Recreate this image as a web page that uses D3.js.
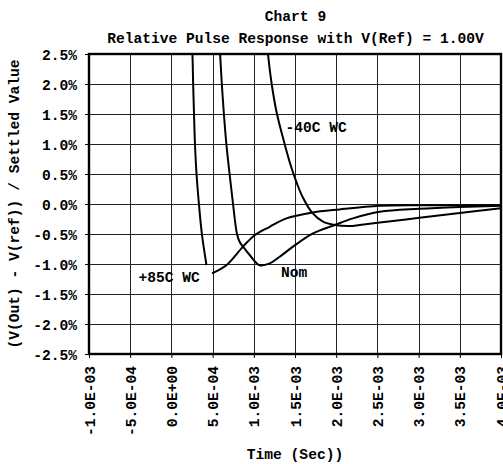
<!DOCTYPE html>
<html>
<head>
<meta charset="utf-8">
<script src="https://cdn.jsdelivr.net/npm/d3@7/dist/d3.min.js"></script>
<style>
  html, body { margin: 0; padding: 0; background: #fff; }
  svg { display: block; }
  text { font-family: "Liberation Mono", "Courier New", monospace; font-weight: bold; fill: #000; }
</style>
</head>
<body>
<svg id="chart" width="503" height="464"></svg>
<script>
// ---- data (time in ms, value in %) ----
const xTickValues = [-1.0, -0.5, 0.0, 0.5, 1.0, 1.5, 2.0, 2.5, 3.0, 3.5, 4.0];
const xTickLabels = ["-1.0E-03", "-5.0E-04", "0.0E+00", "5.0E-04", "1.0E-03", "1.5E-03",
                     "2.0E-03", "2.5E-03", "3.0E-03", "3.5E-03", "4.0E-03"];
const yTickValues = [2.5, 2.0, 1.5, 1.0, 0.5, 0.0, -0.5, -1.0, -1.5, -2.0, -2.5];
const yTickLabels = ["2.5%", "2.0%", "1.5%", "1.0%", "0.5%", "0.0%", "-0.5%", "-1.0%", "-1.5%", "-2.0%", "-2.5%"];

const hotT = [0.245, 0.255, 0.264, 0.274, 0.286, 0.305, 0.334, 0.370, 0.426, null,
              0.493, 0.667, 0.869, 1.011, 1.193, 1.396, 1.699, 2.043, 2.528, 3.010, 4.000];
const hotV = [2.7, 2.5, 2.0, 1.52, 1.0, 0.5, 0.0, -0.5, -1.02, null,
              -1.155, -1.02, -0.71, -0.52, -0.38, -0.24, -0.145, -0.09, -0.03, -0.02, -0.02];

const nomT = [0.58, 0.591, 0.612, 0.636, 0.667, 0.706, 0.748, 0.796, 0.828, 0.869, 0.950, 1.072,
              1.193, 1.314, 1.476, 1.718, 1.982, 2.204, 2.528, 3.010, 3.500, 4.000];
const nomV = [2.7, 2.5, 2.0, 1.52, 1.0, 0.5, 0.0, -0.5, -0.63, -0.71, -0.85, -1.02,
              -0.99, -0.88, -0.71, -0.49, -0.35, -0.24, -0.13, -0.08, -0.05, -0.03];

const coldT = [1.16, 1.172, 1.217, 1.278, 1.374, 1.453, 1.523, 1.591, 1.708, 1.840, 1.982,
               2.164, 2.285, 2.528, 3.010, 3.500, 4.000];
const coldV = [2.7, 2.5, 2.0, 1.52, 1.0, 0.62, 0.345, 0.12, -0.145, -0.295, -0.35,
               -0.367, -0.35, -0.31, -0.23, -0.15, -0.07];

const seriesNames = ["+85C WC", "Nom", "-40C WC"];
const labelPos = [[0.345, -1.30, "end"], [1.33, -1.21, "start"], [1.385, 1.20, "start"]]; // data coords of labels

const titleLines = ["Chart 9", "Relative Pulse Response with V(Ref) = 1.00V"];
const xTitle = "Time (Sec))";
const yTitle = "(V(Out) - V(ref)) / Settled Value";

// ---- layout ----
const L = 89, R = 501, T = 54, B = 354;
const fs = 14.6;
const svg = d3.select("#chart");

const x = d3.scaleLinear().domain([-1.0, 4.0]).range([L, R]);
const y = d3.scaleLinear().domain([-2.5, 2.5]).range([B, T]);

// gridlines
const grid = svg.append("g").attr("shape-rendering", "crispEdges");
grid.selectAll("line.v").data(xTickValues.slice(1, -1)).join("line")
  .attr("x1", d => Math.round(x(d)) + 0.5).attr("x2", d => Math.round(x(d)) + 0.5)
  .attr("y1", T).attr("y2", B).attr("stroke", "#222").attr("stroke-width", 1);
grid.selectAll("line.h").data(yTickValues.slice(1, -1)).join("line")
  .attr("y1", d => Math.round(y(d)) + 0.5).attr("y2", d => Math.round(y(d)) + 0.5)
  .attr("x1", L).attr("x2", R).attr("stroke", "#222").attr("stroke-width", 1);

// axes
const xAxis = d3.axisBottom(x).tickValues(xTickValues).tickSize(4).tickFormat((d, i) => xTickLabels[i]);
const yAxis = d3.axisLeft(y).tickValues(yTickValues).tickSize(4).tickFormat((d, i) => yTickLabels[i]);

const gx = svg.append("g").attr("transform", `translate(0,${B})`).call(xAxis);
gx.select(".domain").remove();
gx.selectAll(".tick line").attr("stroke", "#000");
gx.selectAll(".tick text")
  .attr("font-size", fs)
  .attr("font-family", "Liberation Mono")
  .attr("font-weight", "bold")
  .attr("transform", "rotate(-90)")
  .attr("text-anchor", "end")
  .attr("x", -12).attr("y", 0).attr("dy", "0.35em");

const gy = svg.append("g").attr("transform", `translate(${L},0)`).call(yAxis);
gy.select(".domain").remove();
gy.selectAll(".tick line").attr("stroke", "#000");
gy.selectAll(".tick text")
  .attr("font-size", fs)
  .attr("font-family", "Liberation Mono")
  .attr("font-weight", "bold")
  .attr("x", -12).attr("dy", "0.35em");

// clip
svg.append("clipPath").attr("id", "clip").append("rect")
  .attr("x", L).attr("y", T).attr("width", R - L).attr("height", B - T);

const line = d3.line()
  .defined(d => d[0] !== null && d[1] !== null)
  .x(d => x(d[0])).y(d => y(d[1]))
  .curve(d3.curveCatmullRom.alpha(0.5));

const series = [[hotT, hotV], [nomT, nomV], [coldT, coldV]];
const curves = svg.append("g").attr("clip-path", "url(#clip)");
series.forEach(([ts, vs]) => {
  const pts = ts.map((t, i) => [t, vs[i]]);
  curves.append("path").datum(pts)
    .attr("d", line)
    .attr("fill", "none").attr("stroke", "#000").attr("stroke-width", 2)
    .attr("stroke-linejoin", "round");
});

// frame
svg.append("rect").attr("x", L).attr("y", T).attr("width", R - L).attr("height", B - T)
  .attr("fill", "none").attr("stroke", "#000").attr("stroke-width", 2.4);

// labels
seriesNames.forEach((name, i) => {
  svg.append("text")
    .attr("x", x(labelPos[i][0])).attr("y", y(labelPos[i][1]))
    .attr("text-anchor", labelPos[i][2])
    .attr("font-size", fs)
    .text(name);
});

// titles
svg.append("text").attr("x", 295.5).attr("y", 21).attr("text-anchor", "middle")
  .attr("font-size", fs).text(titleLines[0]);
svg.append("text").attr("x", 295.5).attr("y", 42.5).attr("text-anchor", "middle")
  .attr("font-size", fs).text(titleLines[1]);
svg.append("text").attr("x", 295).attr("y", 459).attr("text-anchor", "middle")
  .attr("font-size", fs).text(xTitle);
svg.append("text").attr("transform", `translate(19,${(T + B) / 2}) rotate(-90)`)
  .attr("text-anchor", "middle").attr("font-size", fs).text(yTitle);
</script>
</body>
</html>
